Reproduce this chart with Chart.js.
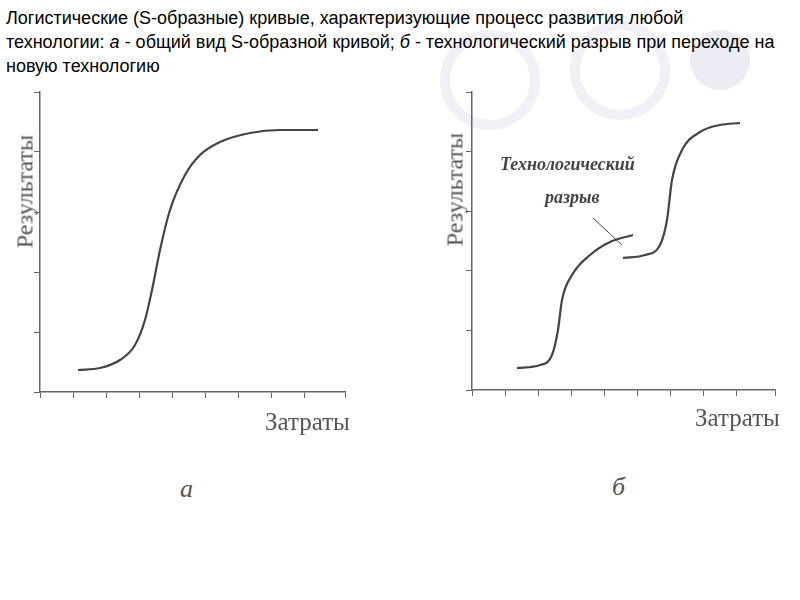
<!DOCTYPE html>
<html><head><meta charset="utf-8">
<script src="https://cdn.jsdelivr.net/npm/chart.js@4"></script>
<style>
body{margin:0;width:800px;height:600px;position:relative;background:#fff;overflow:hidden;font-family:"Liberation Sans",Arial,sans-serif}
.c{position:absolute;top:80px;width:400px;height:330px}
.t{position:absolute;color:#555;font-family:"Liberation Serif",serif}
.deco{position:absolute;border-radius:50%}
</style></head><body>
<div class="deco" style="left:440px;top:30px;width:80px;height:80px;border:10px solid #f0f0f6"></div>
<div class="deco" style="left:570px;top:20px;width:80px;height:80px;border:10px solid #f0f0f6"></div>
<div class="deco" style="left:690px;top:30px;width:60px;height:60px;background:#ececf4"></div>
<div style="position:absolute;left:6px;top:6px;width:770px;font-size:18px;line-height:24px;color:#000">Логистические (S-образные) кривые, характеризующие процесс развития любой технологии: <i>а</i> - общий вид S-образной кривой; <i>б</i> - технологический разрыв при переходе на новую технологию</div>
<div class="c" style="left:0"><canvas id="a"></canvas></div>
<div class="c" style="left:400px"><canvas id="b"></canvas></div>
<div class="t" style="left:-45px;top:178px;font-size:24px;transform:rotate(-90deg);width:140px;text-align:center">Результаты</div>
<div class="t" style="left:385px;top:176px;font-size:24px;transform:rotate(-90deg);width:140px;text-align:center">Результаты</div>
<div class="t" style="left:265px;top:408px;font-size:25px">Затраты</div>
<div class="t" style="left:695px;top:404px;font-size:25px">Затраты</div>
<div class="t" style="left:180px;top:474px;font-size:26px;font-style:italic">а</div>
<div class="t" style="left:612px;top:472px;font-size:26px;font-style:italic">б</div>
<div class="t" style="left:500px;top:154px;font-size:18px;font-style:italic;font-weight:bold;color:#444">Технологический</div>
<div class="t" style="left:545px;top:187px;font-size:18px;font-style:italic;font-weight:bold;color:#444">разрыв</div>
<script>
const curveA_x=[38,60,80,95,105,112,120,130,145,160,180,210,240,278];
const curveA_y=[22,24,32,47,72,102,142,182,217,237,250,259,262,262];
const curveB1_x=[45,68,80,86,90,100,118,138,161];
const curveB1_y=[22,25,35,60,90,115,135,148,155];
const curveB2_x=[151,173,188,195,200,210,228,248,268];
const curveB2_y=[132,135,145,170,210,240,258,265,267];
const gapLine_x=[121,150];
const gapLine_y=[172,145];
const pts=(xs,ys)=>xs.map((x,i)=>({x,y:ys[i]}));
const ds=(d,w)=>({data:d,borderColor:'#444',borderWidth:w||2.2,pointRadius:0,cubicInterpolationMode:'monotone',fill:false});
function mk(id,sets,xmax,ymax,pad){
 const fit=s=>{if(s.axis==='x')s.height=6;else s.width=6;};
 new Chart(document.getElementById(id),{type:'line',data:{datasets:sets},
 options:{responsive:true,maintainAspectRatio:false,animation:false,layout:{padding:pad},
 plugins:{legend:{display:false},tooltip:{enabled:false}},
 scales:{x:{type:'linear',min:0,max:xmax,afterFit:fit,border:{color:'#666',width:1.5},grid:{drawOnChartArea:false,tickLength:6,color:'#666'},ticks:{stepSize:33,color:'transparent'}},
 y:{type:'linear',min:0,max:ymax,afterFit:fit,border:{color:'#666',width:1.5},grid:{drawOnChartArea:false,tickLength:6,color:'#666'},ticks:{stepSize:60,color:'transparent'}}}}});
}
mk('a',[ds(pts(curveA_x,curveA_y))],305,300,{left:34,top:12,bottom:12,right:55});
mk('b',[ds(pts(curveB1_x,curveB1_y)),ds(pts(curveB2_x,curveB2_y)),{...ds(pts(gapLine_x,gapLine_y),1),cubicInterpolationMode:'default'}],303,298,{left:66,top:12,bottom:14,right:25});
</script></body></html>
